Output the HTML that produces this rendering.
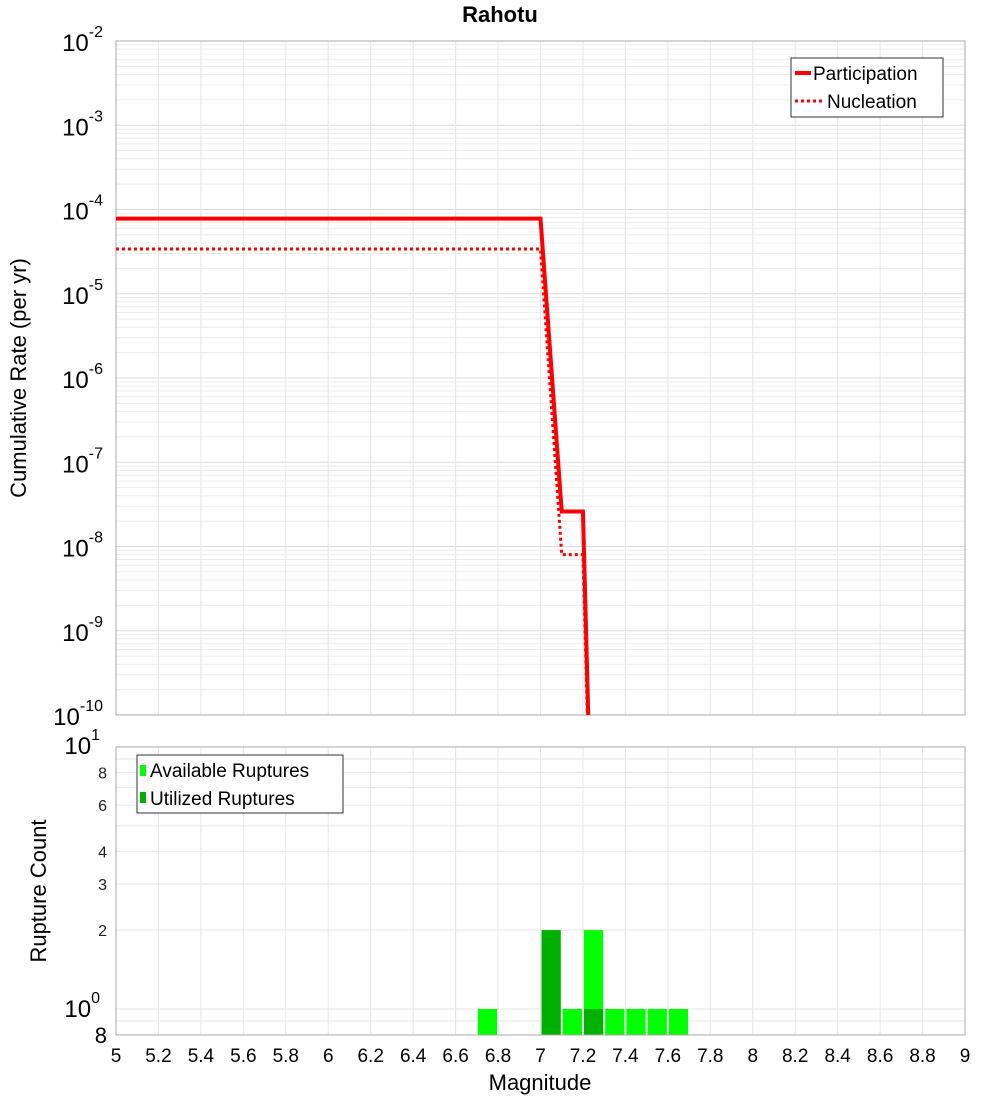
<!DOCTYPE html>
<html><head><meta charset="utf-8"><style>body{margin:0;background:#fff}svg{display:block;font-family:"Liberation Sans","DejaVu Sans",sans-serif}</style></head>
<body>
<svg id="c" width="1000" height="1100" xmlns="http://www.w3.org/2000/svg">
<defs><clipPath id="clipTop"><rect x="116" y="41" width="849" height="674"/></clipPath></defs>
<text x="500" y="22" text-anchor="middle" font-size="22" font-weight="bold">Rahotu</text>
<g id="topPlot"></g>
<g id="botPlot"></g>
</svg>
<script>
const partMags=[5,7.0,7.1,7.2,7.3];
const partRates=[7.8e-5,7.8e-5,2.6e-8,2.6e-8,5e-18];
const nuclMags=[5,7.0,7.1,7.2,7.3];
const nuclRates=[3.4e-5,3.4e-5,8e-9,8e-9,5e-18];
const binCenters=[6.75,7.05,7.15,7.25,7.35,7.45,7.55,7.65];
const availCounts=[1,2,1,2,1,1,1,1];
const usedCounts=[0,2,0,1,0,0,0,0];
const xTicks=[5,5.2,5.4,5.6,5.8,6,6.2,6.4,6.6,6.8,7,7.2,7.4,7.6,7.8,8,8.2,8.4,8.6,8.8,9];
const topExps=[-2,-3,-4,-5,-6,-7,-8,-9,-10];
const botTicks=[8,6,4,3,2];

const NS="http://www.w3.org/2000/svg";
const X0=116,X1=965;
const x=m=>X0+(m-5)/4*(X1-X0);
const TY0=41,TY1=715;
const yT=v=>TY0+(-2-Math.log10(v))/8*(TY1-TY0);
const BY0=747,BY1=1035;
const yB=v=>1009-Math.log10(v)*262;
function mk(p,tg,a){const e=document.createElementNS(NS,tg);for(const k in a)e.setAttribute(k,a[k]);p.appendChild(e);return e;}
const topG=document.getElementById('topPlot'),botG=document.getElementById('botPlot');

for(let d=-10;d<-2;d++){for(let k=2;k<10;k++){const yy=yT(k*Math.pow(10,d));const l=mk(topG,'line',{x1:X0,x2:X1,y1:yy,y2:yy,stroke:'#ececec','stroke-width':1});}}
topExps.forEach(e=>{const yy=yT(Math.pow(10,e));const l=mk(topG,'line',{x1:X0,x2:X1,y1:yy,y2:yy,stroke:'#dcdcdc'});
 const tx=mk(topG,'text',{x:103,y:yy+10,'text-anchor':'end','font-size':24});tx.innerHTML='10<tspan dy="-14" font-size="16">'+e+'</tspan>';});
xTicks.forEach(m=>{const l=mk(topG,'line',{x1:x(m),x2:x(m),y1:TY0,y2:TY1,stroke:'#e6e6e6'});
 const l2=mk(botG,'line',{x1:x(m),x2:x(m),y1:BY0,y2:BY1,stroke:'#e6e6e6'});
 const tx=mk(botG,'text',{x:x(m),y:1062,'text-anchor':'middle','font-size':19});tx.textContent=String(m);});
const fr=mk(topG,'rect',{x:X0,y:TY0,width:X1-X0,height:TY1-TY0,fill:'none',stroke:'#aaa'});
const g=mk(topG,'g',{'clip-path':'url(#clipTop)'});
const pp=mk(g,'polyline',{points:partMags.map((m,i)=>x(m)+','+yT(partRates[i])).join(' '),fill:'none',stroke:'#f00','stroke-width':4});
const np=mk(g,'polyline',{points:nuclMags.map((m,i)=>x(m)+','+yT(nuclRates[i])).join(' '),fill:'none',stroke:'#f00','stroke-width':3,'stroke-dasharray':'3,3'});
const lg=mk(topG,'g',{});
mk(lg,'rect',{x:791,y:58,width:152,height:59,fill:'#fff',stroke:'#333'});
mk(lg,'line',{x1:795,x2:811,y1:73,y2:73,stroke:'#f00','stroke-width':4});
let t=mk(lg,'text',{x:813,y:80,'font-size':19});t.textContent='Participation';
mk(lg,'line',{x1:795,x2:822,y1:101,y2:101,stroke:'#f00','stroke-width':3,'stroke-dasharray':'3,3'});
t=mk(lg,'text',{x:827,y:108,'font-size':19});t.textContent='Nucleation';
t=mk(topG,'text',{x:26,y:378,'text-anchor':'middle','font-size':22,transform:'rotate(-90 26 378)'});t.textContent='Cumulative Rate (per yr)';

[0.9,1,2,3,4,5,6,7,8,9,10].forEach(v=>{const yy=yB(v);const l=mk(botG,'line',{x1:X0,x2:X1,y1:yy,y2:yy,stroke:'#e6e6e6'});});
botTicks.forEach(v=>{const tt=mk(botG,'text',{x:107,y:yB(v)+6,'text-anchor':'end','font-size':16,fill:'#222'});tt.textContent=v;});
[[10,'1',754],[1,'0',1017]].forEach(([v,e,yy])=>{const tt=mk(botG,'text',{x:100,y:yy,'text-anchor':'end','font-size':24});tt.innerHTML='10<tspan dy="-14" font-size="16">'+e+'</tspan>';});
t=mk(botG,'text',{x:107,y:1043,'text-anchor':'end','font-size':22});t.textContent='8';
binCenters.forEach((m,i)=>{const w=x(0.1)-x(0)-2;
 const r=mk(botG,'rect',{x:x(m)-w/2,y:yB(availCounts[i]),width:w,height:BY1-yB(availCounts[i]),fill:'#00ff00'});
 if(usedCounts[i]>0){const r2=mk(botG,'rect',{x:x(m)-w/2,y:yB(usedCounts[i]),width:w,height:BY1-yB(usedCounts[i]),fill:'#00b000'});}});
const fb=mk(botG,'rect',{x:X0,y:BY0,width:X1-X0,height:BY1-BY0,fill:'none',stroke:'#aaa'});
const lb=mk(botG,'g',{});
mk(lb,'rect',{x:137,y:755,width:206,height:58,fill:'#fff',stroke:'#333'});
mk(lb,'rect',{x:140,y:765,width:6,height:11,fill:'#00ff00'});
t=mk(lb,'text',{x:150,y:777,'font-size':19});t.textContent='Available Ruptures';
mk(lb,'rect',{x:140,y:792,width:6,height:11,fill:'#00b000'});
t=mk(lb,'text',{x:150,y:805,'font-size':19});t.textContent='Utilized Ruptures';
t=mk(botG,'text',{x:46,y:891,'text-anchor':'middle','font-size':22,transform:'rotate(-90 46 891)'});t.textContent='Rupture Count';
t=mk(botG,'text',{x:540,y:1090,'text-anchor':'middle','font-size':22});t.textContent='Magnitude';
</script>
</body></html>
